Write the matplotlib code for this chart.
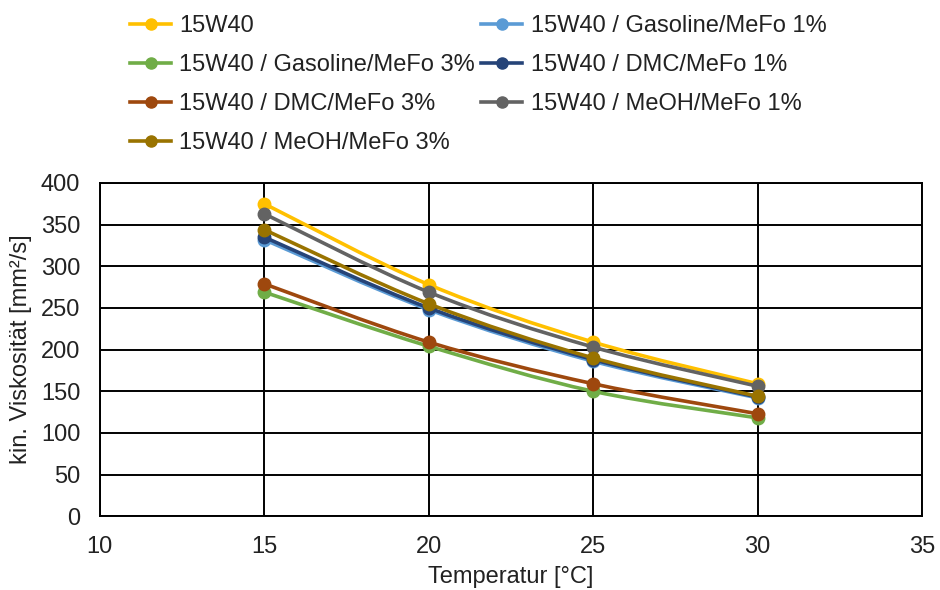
import numpy as np
import matplotlib
matplotlib.use("Agg")
from matplotlib import pyplot as plt
from matplotlib.path import Path
from matplotlib.patches import PathPatch
from matplotlib.lines import Line2D

plt.rcParams['font.family'] = ['Liberation Sans', 'DejaVu Sans']

# Daten
temperatur = [15, 20, 25, 30]
serien = [
    "15W40",
    "15W40 / Gasoline/MeFo 1%",
    "15W40 / Gasoline/MeFo 3%",
    "15W40 / DMC/MeFo 1%",
    "15W40 / DMC/MeFo 3%",
    "15W40 / MeOH/MeFo 1%",
    "15W40 / MeOH/MeFo 3%",
]
v_15w40 = [375, 278, 209, 159]
v_gas1 = [332, 248, 186, 142]
v_gas3 = [269, 204, 150, 118]
v_dmc1 = [335, 250, 188, 143]
v_dmc3 = [279, 209, 159, 123]
v_meoh1 = [363, 269, 203, 156]
v_meoh3 = [344, 255, 190, 144]
werte = [v_15w40, v_gas1, v_gas3, v_dmc1, v_dmc3, v_meoh1, v_meoh3]
farben = ["#FFC000", "#5B9BD5", "#70AD47", "#264478", "#9E480E", "#636363", "#997300"]

x_ticks = [10, 15, 20, 25, 30, 35]
y_ticks = [0, 50, 100, 150, 200, 250, 300, 350, 400]


# geglättete Linie wie in Excel (Catmull-Rom als Bezier-Pfad)
def smooth_path(x, y):
    p = np.column_stack([x, y]).astype(float)
    verts = [p[0]]
    codes = [Path.MOVETO]
    n = len(p)
    for i in range(n - 1):
        p0 = p[i - 1] if i > 0 else p[i]
        p1 = p[i]
        p2 = p[i + 1]
        p3 = p[i + 2] if i + 2 < n else p[i + 1]
        c1 = p1 + (p2 - p0) / 6
        c2 = p2 - (p3 - p1) / 6
        verts += [c1, c2, p2]
        codes += [Path.CURVE4] * 3
    return Path(verts, codes)


fig = plt.figure(figsize=(9.4, 5.9), dpi=100)
ax = fig.add_axes([0.106, 0.125, 0.875, 0.565])

for i, (v, c) in enumerate(zip(werte, farben)):
    z = 3 + i
    ax.add_patch(PathPatch(smooth_path(temperatur, v), fill=False, edgecolor=c,
                           lw=2.6, zorder=z, capstyle='round'))
    ax.plot(temperatur, v, ls='none', marker='o', ms=9, color=c, zorder=z)

ax.set_xlim(10, 35)
ax.set_ylim(0, 400)
ax.set_xticks(x_ticks)
ax.set_yticks(y_ticks)
ax.grid(True, color='black', lw=1.4)
ax.set_axisbelow(True)
for s in ax.spines.values():
    s.set_color('black')
    s.set_linewidth(1.4)
ax.tick_params(length=0, labelsize=17, colors='#222222')
ax.tick_params(axis='y', pad=14)
ax.tick_params(axis='x', pad=14)
ax.set_xlabel("Temperatur [°C]", fontsize=17, color='#222222', labelpad=6)
ax.set_ylabel("kin. Viskosität [mm²/s]", fontsize=17, color='#222222', labelpad=6)

# Legende (Excel-Reihenfolge zeilenweise)
handles = [Line2D([], [], color=c, lw=2.6, marker='o', ms=8) for c in farben]
order = [0, 2, 4, 6, 1, 3, 5]
fig.legend([handles[i] for i in order], [serien[i] for i in order],
           loc='upper left', bbox_to_anchor=(0.1156, 1.01), ncol=2, frameon=False,
           fontsize=17, handlelength=1.75, handletextpad=0.35, columnspacing=0.25,
           labelspacing=0.72, labelcolor='#222222')

fig.savefig("out.png", dpi=100)
